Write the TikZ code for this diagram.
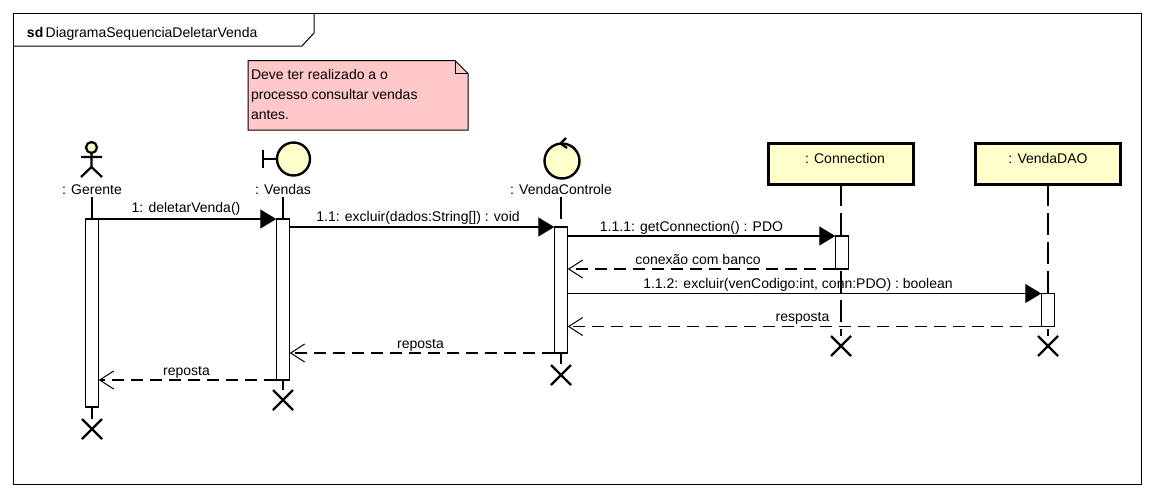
\documentclass[tikz,border=0pt]{standalone}
\usepackage{fontspec}
\setmainfont{Liberation Sans}
\usetikzlibrary{arrows.meta,shapes.misc}
\definecolor{objfill}{HTML}{FFFFCC}
\definecolor{notefill}{HTML}{FFC8C8}
\begin{document}
\begin{tikzpicture}[x=1pt,y=-1pt,line join=miter,
  every node/.style={inner sep=0pt,outer sep=0pt,font=\fontsize{14}{17}\selectfont},
  frameline/.style={draw=black,line width=1pt},
  life/.style={draw=black,line width=1.2pt,dash pattern=on 22pt off 7pt},
  act/.style={draw=black,fill=white,line width=1.2pt,minimum width=13.5pt,anchor=north},
  obj/.style={draw=black,fill=objfill,line width=3pt,minimum width=145pt,minimum height=41pt},
  endx/.style={cross out,draw=black,line width=2.4pt,minimum size=20pt},
  call/.style={draw=black,line width=1.3pt,-{Triangle[length=16pt,width=19pt]}},
  ret/.style={draw=black,line width=1.2pt,dash pattern=on 12pt off 7pt,-{Straight Barb[length=14pt,width=18pt,line width=1pt]}},
  lbl/.style={anchor=base},
  role/.style={fill=objfill,draw=black,line width=2.4pt}]
\useasboundingbox (0,0) rectangle (1154,496);
\fill[white] (0,0) rectangle (1154,496);
% frame
\node[minimum width=1128pt,minimum height=471pt,frameline,anchor=north west] (frame) at (13.5,13.5) {};
\draw[frameline] (314,13.5) -- (314,33) -- (302,46) -- (13.5,46);
\node[anchor=base west] (title) at (27,37) {\textbf{sd}\,DiagramaSequenciaDeletarVenda};
% note
\draw[draw=black,fill=notefill,line width=1pt] (248,60.5) -- (455,60.5) -- (468,73.5) -- (468,130) -- (248,130) -- cycle;
\draw[line width=1pt] (455,60.5) -- (455,73.5) -- (468,73.5);
\node[anchor=base west,align=left] (note) at (251,79) {Deve ter realizado a o};
\node[anchor=base west] (noteb) at (251,99) {processo consultar vendas};
\node[anchor=base west] (notec) at (251,119) {antes.};
% heads
\node[lbl] (lG) at (92,194) {: Gerente};
\node[lbl] (lV) at (283,194) {: Vendas};
\node[lbl] (lC) at (561,194) {: VendaControle};
\node[obj] (oN) at (841,163.5) {};
\node[obj] (oD) at (1048,163.5) {};
\node[anchor=base] (tN) at (845,163) {: Connection};
\node[anchor=base] (tD) at (1048,163) {: VendaDAO};
% actor
\draw[line width=2.2pt,fill=objfill] (91.5,147.5) circle (5.5);
\draw[line width=2.2pt] (91.5,153) -- (91.5,167) (81,157) -- (102,157) (81,177) -- (91.5,167) -- (102,177);
% boundary
\draw[role] (293.5,159) circle (16.5);
\draw[line width=2.4pt] (263,150) -- (263,168) (263,159) -- (277,159);
% control
\draw[role] (562,161) circle (17.5);
\draw[line width=2.2pt] (566,138) -- (560.5,143.5) -- (567,148);
% activations
\coordinate (cG) at (92,197); \coordinate (cV) at (283,197); \coordinate (cC) at (561,197);
\node[endx] (xG) at (92,429) {};
\node[endx] (xV) at (283,400) {};
\node[endx] (xC) at (561,375) {};
\node[endx] (xN) at (841,346) {};
\node[endx] (xD) at (1048,346) {};
\draw[life] (cG) -- (xG);
\draw[life] (cV) -- (xV);
\draw[life] (cC) -- (xC);
\draw[life] (oN) -- (xN);
\draw[life] (oD) -- (xD);
\node[act,minimum height=188pt] (aG) at (92,219) {};
\node[act,minimum height=161pt] (aV) at (283,219) {};
\node[act,minimum height=126pt] (aC) at (561,227) {};
\node[act,minimum height=33pt] (aN) at (842,236) {};
\node[act,minimum height=33pt] (aD) at (1048,293.5) {};
% messages
\draw[call] (aG.north east) -- (aV.north west);
\draw[call] (aV.east |- aC.north) -- (aC.north west);
\draw[call] (aC.east |- aN.north) -- (aN.north west);
\draw[ret] (aN.south west) -- (aC.east |- aN.south);
\draw[call] (aC.east |- aD.north) -- (aD.north west);
\draw[ret] (aD.south west) -- (aC.east |- aD.south);
\draw[ret] (aC.south west) -- (aV.east |- aC.south);
\draw[ret] (aV.south west) -- (aG.east |- aV.south);
% labels
\node[lbl] (m1) at (186,212) {1: deletarVenda()};
\node[lbl] (m2) at (418,221) {1.1: excluir(dados:String[]) : void};
\node[lbl] (m3) at (691.5,231) {1.1.1: getConnection() : PDO};
\node[lbl] (m4) at (698,264) {conexão com banco};
\node[lbl] (m5) at (798,288) {1.1.2: excluir(venCodigo:int, conn:PDO) : boolean};
\node[lbl] (m6) at (802.5,321) {resposta};
\node[lbl] (m7) at (420.5,348) {reposta};
\node[lbl] (m8) at (186.5,375) {reposta};
\end{tikzpicture}
\end{document}
